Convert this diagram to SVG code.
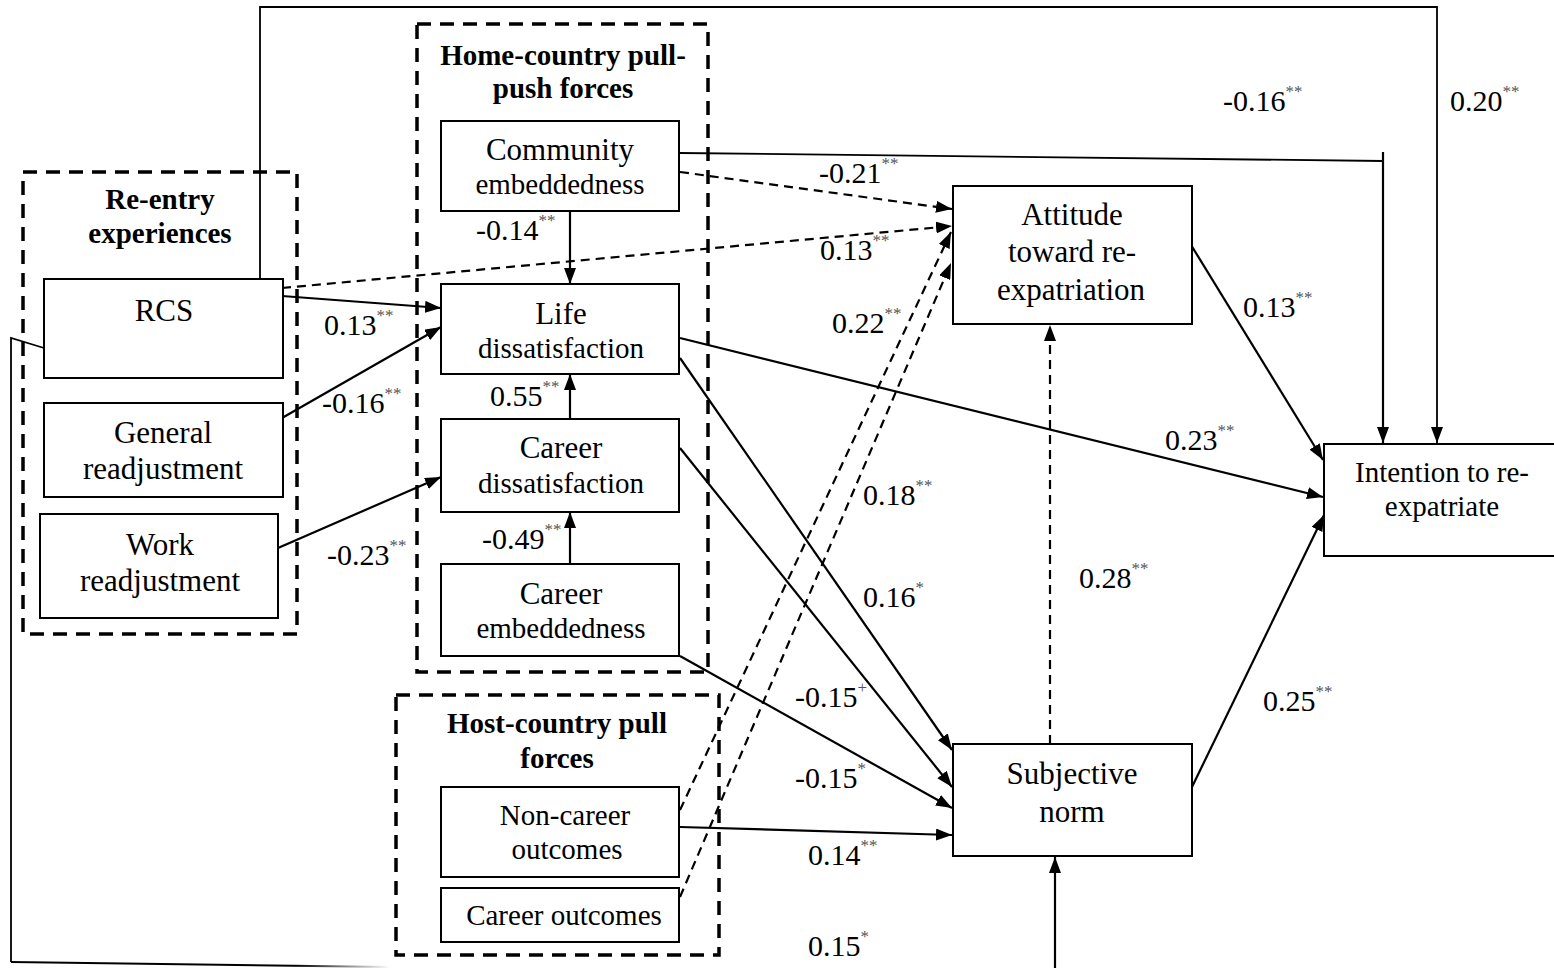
<svg xmlns="http://www.w3.org/2000/svg" width="1554" height="968" viewBox="0 0 1554 968" font-family="'Liberation Serif', 'Times New Roman', serif">
  <style>
    text { font-family: "Liberation Serif", "Times New Roman", serif; fill: #000; }
    .big { font-size: 31px; text-anchor: middle; }
    .small { font-size: 29px; text-anchor: middle; }
    .title { font-size: 29px; font-weight: bold; text-anchor: middle; }
    .coef { font-size: 30px; }
    .sup { font-size: 17px; fill: #555; }
    .box { fill: #fff; stroke: #000; stroke-width: 2; }
    .group { fill: none; stroke: #000; stroke-width: 3.5; stroke-dasharray: 14 9; }
    .solid { fill: none; stroke: #000; stroke-width: 2.2; }
    .thin { fill: none; stroke: #000; stroke-width: 1.8; }
    .dash { fill: none; stroke: #000; stroke-width: 2.2; stroke-dasharray: 9 6; }
    .arr { marker-end: url(#head); }
  </style>
  <defs>
    <marker id="head" viewBox="0 0 16 12" refX="16" refY="6" markerWidth="16" markerHeight="12" markerUnits="userSpaceOnUse" orient="auto">
      <path d="M0,0 L16,6 L0,12 z" fill="#000"/>
    </marker>
    <linearGradient id="fadeOut" gradientUnits="userSpaceOnUse" x1="10" y1="0" x2="390" y2="0">
      <stop offset="0" stop-color="#000"/>
      <stop offset="0.75" stop-color="#000"/>
      <stop offset="1" stop-color="#fff"/>
    </linearGradient>
  </defs>

  <rect width="1554" height="968" fill="#fff"/>

  <!-- grouping frames -->
  <g id="group-reentry">
    <rect class="group" x="23" y="172" width="274" height="462"/>
    <text class="title" x="160" y="209">Re-entry</text>
    <text class="title" x="160" y="243">experiences</text>
  </g>
  <g id="group-home">
    <rect class="group" x="417" y="24" width="291" height="648"/>
    <text class="title" x="563" y="65">Home-country pull-</text>
    <text class="title" x="563" y="98">push forces</text>
  </g>
  <g id="group-host">
    <rect class="group" x="396" y="695" width="323" height="260"/>
    <text class="title" x="557" y="733">Host-country pull</text>
    <text class="title" x="557" y="768">forces</text>
  </g>

  <!-- connectors -->
  <g id="connectors">
    <!-- RCS loop over the top to intention -->
    <path class="thin arr" d="M260,279 V7 H1437 V443"/>
    <!-- community embeddedness to intention -->
    <path class="thin" d="M680,153 L1383,161"/>
    <path class="solid arr" d="M1383,152 V443"/>
    <!-- RCS loop underneath to subjective norm -->
    <path class="thin" d="M44,348 L11,338 V962"/>
    <path fill="none" stroke="url(#fadeOut)" stroke-width="2" d="M11,962 L390,967"/>
    <path class="solid arr" d="M1055,968 V857"/>

    <!-- into life / career dissatisfaction -->
    <path class="solid arr" d="M282,296 L441,308"/>
    <path class="solid arr" d="M282,418 L441,327"/>
    <path class="solid arr" d="M278,548 L441,477"/>
    <path class="solid arr" d="M570,211 V284"/>
    <path class="solid arr" d="M570,419 V374"/>
    <path class="solid arr" d="M570,564 V512"/>

    <!-- dashed paths to attitude -->
    <path class="dash arr" d="M680,172 L952,209"/>
    <path class="dash arr" d="M282,288 L952,226"/>
    <path class="dash arr" d="M680,810 L951,232"/>
    <path class="dash arr" d="M680,897 L951,263"/>

    <!-- paths to subjective norm -->
    <path class="solid arr" d="M680,358 L952,750"/>
    <path class="solid arr" d="M680,448 L952,787"/>
    <path class="solid arr" d="M680,656 L952,808"/>
    <path class="solid arr" d="M680,827 L952,835"/>

    <!-- subjective norm to attitude -->
    <path class="dash arr" d="M1050,744 V325"/>

    <!-- paths to intention -->
    <path class="solid arr" d="M680,338 L1323,497"/>
    <path class="solid arr" d="M1188,240 L1323,460"/>
    <path class="solid arr" d="M1192,787 L1324,515"/>
  </g>

  <!-- nodes -->
  <g id="node-rcs">
    <rect class="box" x="44" y="279" width="239" height="99"/>
    <text class="big" x="164" y="321">RCS</text>
  </g>
  <g id="node-general">
    <rect class="box" x="44" y="403" width="239" height="94"/>
    <text class="big" x="163" y="443">General</text>
    <text class="big" x="163" y="479">readjustment</text>
  </g>
  <g id="node-work">
    <rect class="box" x="40" y="514" width="238" height="104"/>
    <text class="big" x="160" y="555">Work</text>
    <text class="big" x="160" y="591">readjustment</text>
  </g>
  <g id="node-community">
    <rect class="box" x="441" y="121" width="238" height="90"/>
    <text class="big" x="560" y="160">Community</text>
    <text class="small" x="560" y="194">embeddedness</text>
  </g>
  <g id="node-life">
    <rect class="box" x="441" y="284" width="238" height="90"/>
    <text class="big" x="561" y="324">Life</text>
    <text class="small" x="561" y="358">dissatisfaction</text>
  </g>
  <g id="node-career-dissat">
    <rect class="box" x="441" y="419" width="238" height="93"/>
    <text class="big" x="561" y="458">Career</text>
    <text class="small" x="561" y="493">dissatisfaction</text>
  </g>
  <g id="node-career-emb">
    <rect class="box" x="441" y="564" width="238" height="92"/>
    <text class="big" x="561" y="604">Career</text>
    <text class="small" x="561" y="638">embeddedness</text>
  </g>
  <g id="node-noncareer">
    <rect class="box" x="441" y="787" width="238" height="90"/>
    <text class="small" x="565" y="825">Non-career</text>
    <text class="small" x="567" y="859">outcomes</text>
  </g>
  <g id="node-career-out">
    <rect class="box" x="441" y="888" width="238" height="54"/>
    <text class="small" x="564" y="925">Career outcomes</text>
  </g>
  <g id="node-attitude">
    <rect class="box" x="953" y="186" width="239" height="138"/>
    <text class="big" x="1072" y="225">Attitude</text>
    <text class="big" x="1072" y="262">toward re-</text>
    <text class="big" x="1071" y="300">expatriation</text>
  </g>
  <g id="node-subjective">
    <rect class="box" x="953" y="744" width="239" height="112"/>
    <text class="big" x="1072" y="784">Subjective</text>
    <text class="big" x="1072" y="822">norm</text>
  </g>
  <g id="node-intention">
    <rect class="box" x="1324" y="444" width="240" height="112"/>
    <text class="small" x="1442" y="482">Intention to re-</text>
    <text class="small" x="1442" y="516">expatriate</text>
  </g>

  <!-- path coefficients -->
  <g id="coefficients">
    <text class="coef" x="1223" y="111">-0.16<tspan class="sup" dy="-14">**</tspan></text>
    <text class="coef" x="1450" y="111">0.20<tspan class="sup" dy="-14">**</tspan></text>
    <text class="coef" x="819" y="183">-0.21<tspan class="sup" dy="-14">**</tspan></text>
    <text class="coef" x="476" y="240">-0.14<tspan class="sup" dy="-14">**</tspan></text>
    <text class="coef" x="820" y="260">0.13<tspan class="sup" dy="-14">**</tspan></text>
    <text class="coef" x="324" y="335">0.13<tspan class="sup" dy="-14">**</tspan></text>
    <text class="coef" x="832" y="333">0.22<tspan class="sup" dy="-14">**</tspan></text>
    <text class="coef" x="1243" y="317">0.13<tspan class="sup" dy="-14">**</tspan></text>
    <text class="coef" x="322" y="413">-0.16<tspan class="sup" dy="-14">**</tspan></text>
    <text class="coef" x="490" y="406">0.55<tspan class="sup" dy="-14">**</tspan></text>
    <text class="coef" x="1165" y="450">0.23<tspan class="sup" dy="-14">**</tspan></text>
    <text class="coef" x="863" y="505">0.18<tspan class="sup" dy="-14">**</tspan></text>
    <text class="coef" x="482" y="549">-0.49<tspan class="sup" dy="-14">**</tspan></text>
    <text class="coef" x="327" y="565">-0.23<tspan class="sup" dy="-14">**</tspan></text>
    <text class="coef" x="1079" y="588">0.28<tspan class="sup" dy="-14">**</tspan></text>
    <text class="coef" x="863" y="607">0.16<tspan class="sup" dy="-14">*</tspan></text>
    <text class="coef" x="795" y="707">-0.15<tspan class="sup" dy="-14">+</tspan></text>
    <text class="coef" x="1263" y="711">0.25<tspan class="sup" dy="-14">**</tspan></text>
    <text class="coef" x="795" y="788">-0.15<tspan class="sup" dy="-14">*</tspan></text>
    <text class="coef" x="808" y="865">0.14<tspan class="sup" dy="-14">**</tspan></text>
    <text class="coef" x="808" y="956">0.15<tspan class="sup" dy="-14">*</tspan></text>
  </g>
</svg>
